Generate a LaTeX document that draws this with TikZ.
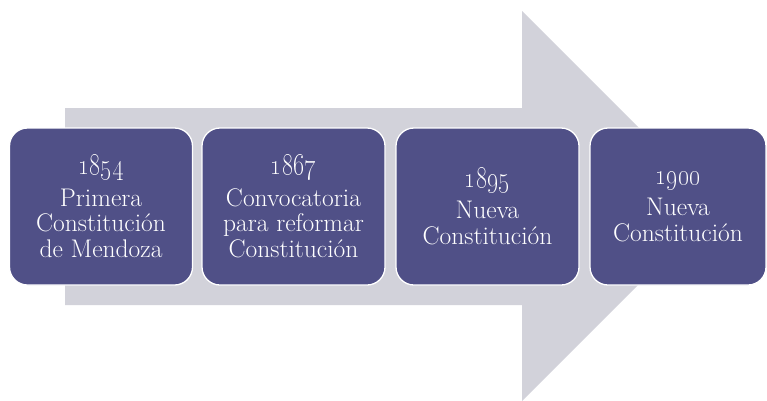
\documentclass[tikz,border=0pt]{standalone}
\usepackage{tikz}
\usepackage{graphicx}
\usetikzlibrary{positioning}
\usepackage{xcolor}
\definecolor{boxblue}{RGB}{80,80,135}
\definecolor{arrowgray}{RGB}{210,210,218}
\newcommand{\yearnum}[1]{\scalebox{1}[1.2]{\oldstylenums{#1}}}
\tikzset{
  yearbox/.style={fill=boxblue,draw=white,line width=1.3pt,rounded corners=18pt,
    minimum width=183pt,minimum height=157pt,align=center,text=white,inner sep=0pt,
    font=\fontsize{25.5}{25.5}\selectfont},
}

\begin{document}
\begin{tikzpicture}[x=1pt,y=-1pt]
                    \useasboundingbox (0,0) rectangle (767,400);
                    \begin{scope}
                    \clip (0,0) rectangle (767,400);
                    \fill[arrowgray] (65,108) -- (522,108) -- (522,11) -- (717,206)
                        -- (522,401) -- (522,305) -- (65,305) -- cycle;
                    \end{scope}
                    \node[yearbox] (y1854) at (101,206.5)
                        {\yearnum{1854}\\[6pt]Primera\\Constitución\\de Mendoza};
                    \node[yearbox] (y1867) at (293.5,206.5)
                        {\yearnum{1867}\\[6pt]Convocatoria\\para reformar\\Constitución};
                    \node[yearbox] (y1895) at (487.5,206.5)
                        {\yearnum{1895}\\[6pt]Nueva\\Constitución};
                    \node[yearbox,minimum width=176pt] (y1900) at (678,206.5)
                        {\yearnum{1900}\\[6pt]Nueva\\Constitución};
                \end{tikzpicture}
\end{document}
